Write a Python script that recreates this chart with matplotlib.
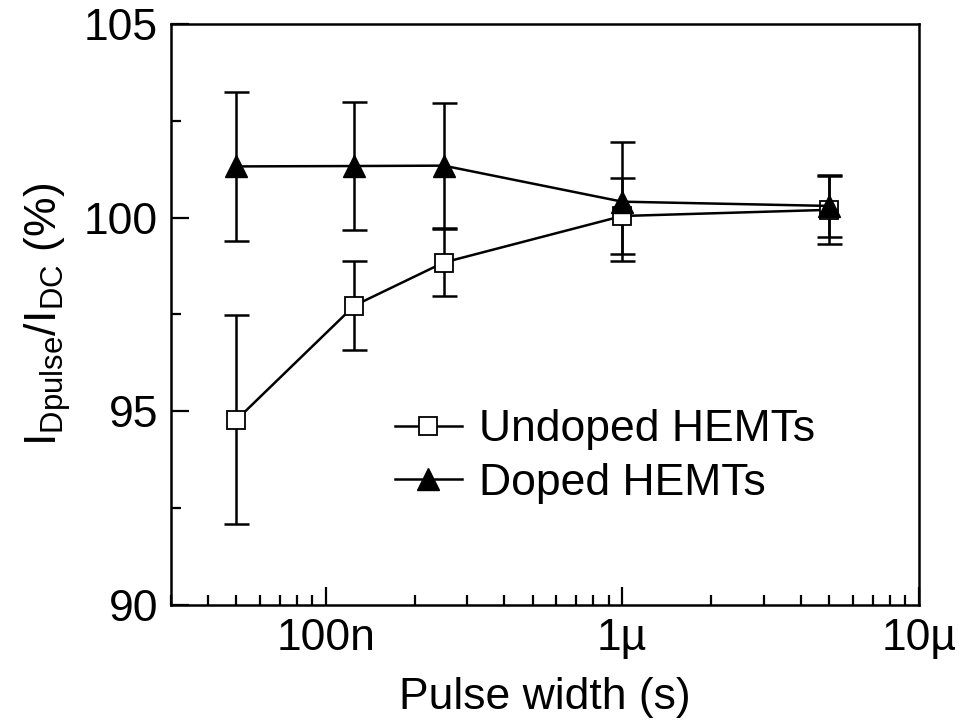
import numpy as np
import matplotlib
matplotlib.use('Agg')
import matplotlib.pyplot as plt
from matplotlib.ticker import FixedLocator, LogLocator, NullFormatter, MultipleLocator

plt.rcParams['font.family'] = ['Liberation Sans', 'DejaVu Sans']
plt.rcParams['mathtext.fontset'] = 'custom'
plt.rcParams['mathtext.rm'] = 'Liberation Sans'
plt.rcParams['mathtext.it'] = 'Liberation Sans'

# pulse widths (s)
pulse_width = [50e-9, 125e-9, 250e-9, 1e-6, 5e-6]

# I_Dpulse / I_DC (%) with error bar half-widths
undoped = [94.78, 97.73, 98.84, 100.04, 100.2]
undoped_err = [2.70, 1.15, 0.87, 0.97, 0.88]
doped = [101.32, 101.33, 101.34, 100.41, 100.3]
doped_err = [1.92, 1.64, 1.62, 1.53, 0.80]

xtick_pos = [1e-7, 1e-6, 1e-5]
xtick_labels = ['100n', '1\u00b5', '10\u00b5']

fs = 32

fig = plt.figure(figsize=(9.59, 7.22), dpi=100)
ax = fig.add_axes([0.178, 0.162, 0.780, 0.805])

lw = 1.8
ax.errorbar(pulse_width, undoped, yerr=undoped_err, fmt='none', ecolor='black',
            elinewidth=lw, capsize=9, capthick=lw, zorder=2)
ax.errorbar(pulse_width, doped, yerr=doped_err, fmt='none', ecolor='black',
            elinewidth=lw, capsize=9, capthick=lw, zorder=2)
ax.plot(pulse_width, undoped, '-', color='black', lw=lw, marker='s', ms=13,
        mfc='white', mec='black', mew=1.3, label='Undoped HEMTs', zorder=3)
ax.plot(pulse_width, doped, '-', color='black', lw=lw, marker='^', ms=16,
        mfc='black', mec='black', label='Doped HEMTs', zorder=4)

ax.set_xscale('log')
ax.set_xlim(3e-8, 1e-5)
ax.set_ylim(90, 105)

ax.xaxis.set_major_locator(FixedLocator(xtick_pos))
ax.set_xticklabels(xtick_labels)
ax.xaxis.set_minor_locator(LogLocator(base=10, subs=np.arange(2, 10)))
ax.xaxis.set_minor_formatter(NullFormatter())
ax.yaxis.set_major_locator(MultipleLocator(5))
ax.yaxis.set_minor_locator(MultipleLocator(2.5))

ax.tick_params(which='both', direction='in', labelsize=fs, width=1.6)
ax.tick_params(which='major', length=13, pad=9)
ax.tick_params(which='minor', length=7)
for s in ax.spines.values():
    s.set_linewidth(1.8)

ax.set_xlabel('Pulse width (s)', fontsize=fs, labelpad=13)
ax.set_ylabel(r'$\mathregular{I_{Dpulse}/I_{DC}}$ (%)', fontsize=fs, labelpad=8)

ax.legend(loc='upper left', bbox_to_anchor=(0.27, 0.375), frameon=False,
          fontsize=fs, handlelength=1.5, handletextpad=0.4, labelspacing=0.28,
          borderpad=0)

fig.savefig('out.png', dpi=100)
